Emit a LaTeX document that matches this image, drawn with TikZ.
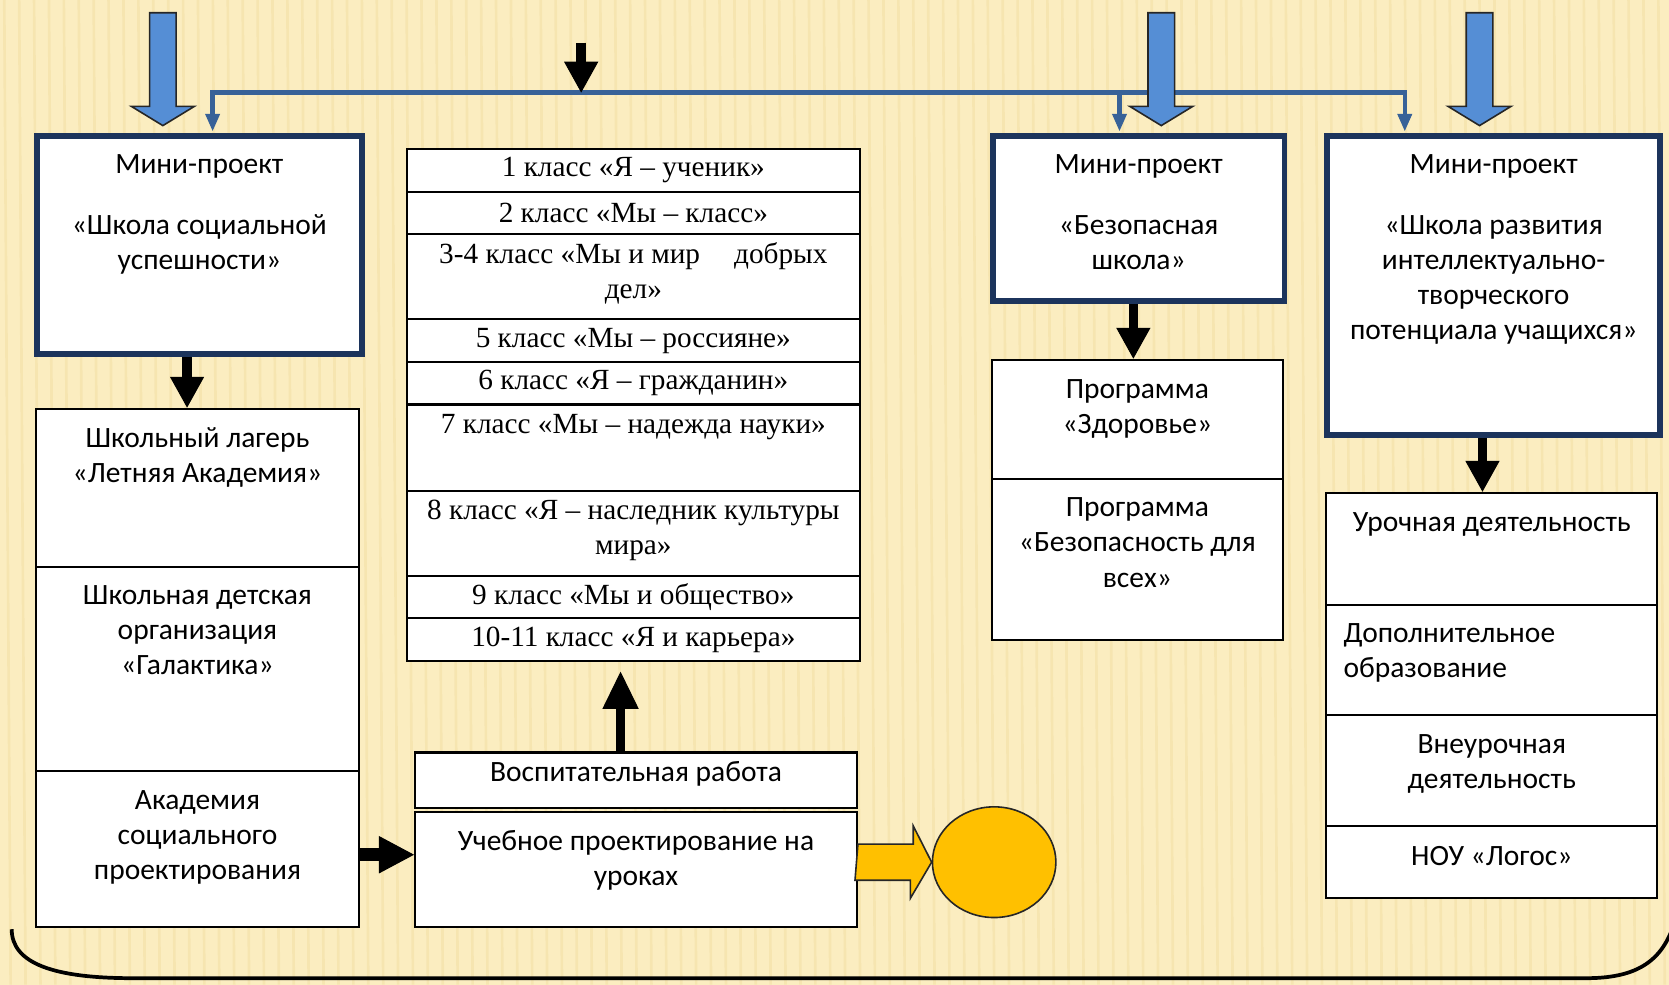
\documentclass[tikz,border=0pt]{standalone}
\usepackage{fontspec}
\setmainfont{Liberation Serif}
\newfontfamily\calfont{Carlito}
\usetikzlibrary{positioning,arrows.meta,shapes.geometric}

\definecolor{paper}{RGB}{251,237,192}
\definecolor{streak}{RGB}{232,206,132}
\definecolor{navy}{RGB}{28,52,92}
\definecolor{linkblue}{RGB}{56,98,152}
\definecolor{arrowblue}{RGB}{85,142,213}
\definecolor{gold}{RGB}{255,192,0}

\tikzset{
  navybox/.style={draw=navy, line width=5.5pt, fill=white, anchor=north west, inner sep=0pt},
  cell/.style={draw=black, line width=2pt, fill=white, anchor=north west, inner sep=0pt},
  txt/.style={font=\calfont\fontsize{27.7}{33}\selectfont, align=center, inner sep=0pt},
  rowtxt/.style={font=\fontsize{27.5}{33}\selectfont, align=center},
  blkarrow/.style={line width=9pt, -{Triangle[width=32pt,length=29pt,line width=1pt]}},
  bluelink/.style={linkblue, line width=4pt, -{Triangle[width=14pt,length=16pt,line width=1pt]}},
  blockblue/.style={fill=arrowblue, draw=black!85, line width=1.5pt, line join=miter},
  yelarrow/.style={fill=gold, draw=black!85, line width=1.5pt, line join=miter}
}

\begin{document}
\begin{tikzpicture}[x=1pt,y=-1pt]
    \useasboundingbox (0,0) rectangle (1568,925);
    \fill[paper] (0,0) rectangle (1568,925);
    \foreach \sx in {4,18,...,1568}
        \draw[streak, line width=2.5pt, opacity=.25] (\sx,0) -- (\sx+6,925);

    \node[navybox, minimum width=305pt, minimum height=205pt] (mpA) at (32,125) {};
    \node[navybox, minimum width=274pt, minimum height=155pt] (mpB) at (930,125) {};
    \node[navybox, minimum width=313pt, minimum height=281pt] (mpC) at (1244,125) {};
    \node[txt, below=20pt of mpA.north] (mpAtxt) {Мини-проект\\[24pt]«Школа социальной\\успешности»};
    \node[txt, below=20pt of mpB.north] (mpBtxt) {Мини-проект\\[24pt]«Безопасная\\школа»};
    \node[txt, below=20pt of mpC.north] (mpCtxt) {Мини-проект\\[24pt]«Школа развития\\интеллектуально-\\творческого\\потенциала учащихся»};

    \coordinate (hub) at (546,87);
    \coordinate (topin) at (546,40);
    \draw[bluelink, shorten >=2pt] (hub) -| ([xshift=12.5pt]mpA.north);
    \draw[bluelink, shorten >=2pt] (hub) -| ([xshift=-18pt]mpB.north);
    \draw[bluelink, shorten >=2pt] (hub) -| ([xshift=-83.5pt]mpC.north);
    \draw[blkarrow] (topin) -- (hub);

    \foreach \cx in {153,1091,1390}
        \filldraw[blockblue] (\cx-12.5,12) -- (\cx+12.5,12) -- (\cx+12.5,100) -- (\cx+29.5,100)
            -- (\cx,118) -- (\cx-29.5,100) -- (\cx-12.5,100) -- cycle;

    \node[cell, minimum width=303pt, minimum height=149pt] (camp) at (33,383) {};
    \node[cell, minimum width=303pt, minimum height=191pt] (galaxy) at (33,532) {};
    \node[cell, minimum width=303pt, minimum height=147pt] (academy) at (33,723) {};
    \node[txt, below=18.6pt of camp.north] (campTxt) {Школьный лагерь\\«Летняя Академия»};
    \node[txt, below=17.6pt of galaxy.north] (galaxyTxt) {Школьная детская\\организация\\«Галактика»};
    \node[txt, below=19.2pt of academy.north] (academyTxt) {Академия\\социального\\проектирования};

    \node[cell, rowtxt, minimum width=426pt, minimum height=40pt] (r1) at (381,139) {1 класс «Я – ученик»};
    \node[cell, rowtxt, minimum width=426pt, minimum height=40pt] (r2) at (381,179) {2 класс «Мы – класс»};
    \node[cell, minimum width=426pt, minimum height=80pt] (r3) at (381,219) {};
    \node[rowtxt, inner sep=0pt, below=9pt of r3.north] (r3txt) {3-4 класс «Мы и мир\hspace{32pt}добрых\\дел»};
    \node[cell, rowtxt, minimum width=426pt, minimum height=40pt] (r4) at (381,299) {5 класс «Мы – россияне»};
    \node[cell, rowtxt, minimum width=426pt, minimum height=40pt] (r5) at (381,339) {6 класс «Я – гражданин»};
    \node[cell, minimum width=426pt, minimum height=81pt] (r6) at (381,379) {};
    \node[rowtxt, inner sep=0pt, below=10pt of r6.north] (r6txt) {7 класс «Мы – надежда науки»};
    \node[cell, minimum width=426pt, minimum height=80pt] (r7) at (381,460) {};
    \node[rowtxt, inner sep=0pt, below=9.5pt of r7.north] (r7txt) {8 класс «Я – наследник культуры\\мира»};
    \node[cell, rowtxt, minimum width=426pt, minimum height=40pt] (r8) at (381,540) {9 класс «Мы и общество»};
    \node[cell, rowtxt, minimum width=426pt, minimum height=40pt] (r9) at (381,580) {10-11 класс «Я и карьера»};

    \node[cell, minimum width=415pt, minimum height=52pt] (vosp) at (389,706) {};
    \node[cell, minimum width=415pt, minimum height=108pt] (ucheb) at (389,762) {};
    \node[txt, below=9.5pt of vosp.north] (vospTxt) {Воспитательная работа};
    \node[txt, below=17.6pt of ucheb.north] (uchebTxt) {Учебное проектирование на\\уроках};
    \node[ellipse, draw=black!85, line width=1.5pt, fill=gold, minimum width=116pt, minimum height=104pt, inner sep=0pt] (goal) at (934,810) {};

    \node[cell, minimum width=273pt, minimum height=112pt] (prog1) at (931,337) {};
    \node[cell, minimum width=273pt, minimum height=151pt] (prog2) at (931,449) {};
    \node[txt, below=19.6pt of prog1.north] (prog1Txt) {Программа\\«Здоровье»};
    \node[txt, below=18.6pt of prog2.north] (prog2Txt) {Программа\\«Безопасность для\\всех»};

    \node[cell, minimum width=311pt, minimum height=105pt] (urok) at (1245,462) {};
    \node[cell, minimum width=311pt, minimum height=104pt] (dop) at (1245,567) {};
    \node[cell, minimum width=311pt, minimum height=104pt] (vne) at (1245,671) {};
    \node[cell, minimum width=311pt, minimum height=68pt] (nou) at (1245,775) {};
    \node[txt, below=19.6pt of urok.north] (urokTxt) {Урочная деятельность};
    \node[txt, align=left, anchor=north west] (dopTxt) at ([xshift=17pt,yshift=-18.6pt]dop.north west) {Дополнительное\\образование};
    \node[txt, below=18.6pt of vne.north] (vneTxt) {Внеурочная\\деятельность};
    \node[txt, below=19.6pt of nou.north] (nouTxt) {НОУ «Логос»};

    \draw[blkarrow] ([xshift=-11.5pt]mpA.south) -- ([xshift=-11.5pt]mpA.south |- camp.north);
    \draw[blkarrow] ([xshift=-5pt]mpB.south) -- ([xshift=-5pt]mpB.south |- prog1.north);
    \draw[blkarrow] ([xshift=-10.5pt]mpC.south) -- ([xshift=-10.5pt]mpC.south |- urok.north);
    \draw[blkarrow, -{Triangle[width=34pt,length=35pt,line width=1pt]}, shorten >=9pt] ([xshift=-14.5pt]vosp.north) -- ([xshift=-14.5pt]vosp.north |- r9.south);
    \draw[blkarrow, line width=12pt, -{Triangle[width=35pt,length=33pt,line width=1pt]}] ([yshift=-5.5pt]academy.east) -- ([yshift=-5.5pt]academy.east -| ucheb.west);
    \filldraw[yelarrow] (ucheb.east |- goal.west) ++(0,-17) -- ++(52,0) -- ++(0,-17) -- (goal.west)
        -- ++(-20,34) -- ++(0,-17) -- ++(-52,0) -- cycle;

    \draw[line width=3.5pt] (11,873) .. controls (11,905) and (50,919) .. (125,919) -- (1490,919)
        .. controls (1535,919) and (1560,905) .. (1572,870);
\end{tikzpicture}
\end{document}
